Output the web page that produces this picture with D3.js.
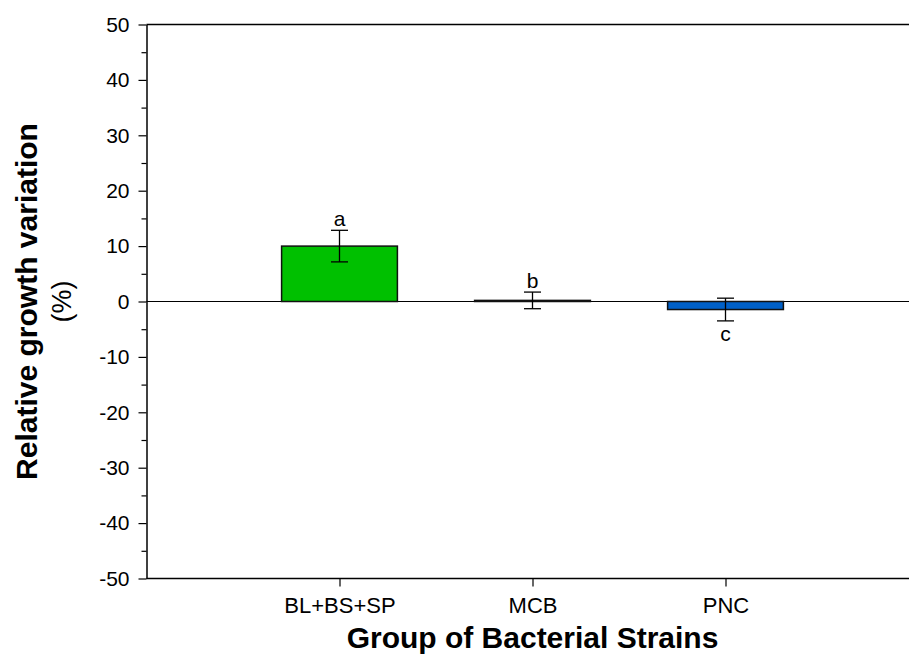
<!DOCTYPE html>
<html>
<head>
<meta charset="utf-8">
<script src="https://cdn.jsdelivr.net/npm/d3@7"></script>
<style>
  body { margin: 0; background: #fff; }
  svg { display: block; font-family: Arial, "Liberation Sans", sans-serif; }
</style>
</head>
<body>
<div id="chart"></div>
<script>
// data
var groups = ['BL+BS+SP', 'MCB', 'PNC'];
var means = [10.0, 0.2, -1.45];
var errors = [2.85, 1.5, 2.05];
var letters = ['a', 'b', 'c'];
var colors = ['#00c000', '#00c000', '#0060c8'];
var yTicks = [-50, -40, -30, -20, -10, 0, 10, 20, 30, 40, 50];

var width = 909,
  height = 655;

var svg = d3.select('#chart')
  .append('svg')
  .attr('width', width)
  .attr('height', height);

// slots 0..4, categories sit on 1, 2, 3
var x = d3.scaleLinear().domain([0, 4]).range([146.5, 918.5]);
var y = d3.scaleLinear().domain([-50, 50]).range([578.5, 24.5]);
var slot = x(1) - x(0);
var barWidth = slot * 0.6;

// frame top line
svg.append('line')
  .attr('x1', x(0)).attr('x2', width)
  .attr('y1', y(50)).attr('y2', y(50))
  .attr('stroke', '#000').attr('stroke-width', 1.5);

// zero line
svg.append('line')
  .attr('x1', x(0)).attr('x2', width)
  .attr('y1', y(0)).attr('y2', y(0))
  .attr('stroke', '#000').attr('stroke-width', 1.2);

// y axis with minor ticks
var minor = d3.range(-45, 50, 10);
svg.append('g')
  .attr('transform', 'translate(' + x(0) + ',0)')
  .call(d3.axisLeft(y).tickValues(minor).tickSize(5).tickFormat(''))
  .call(g => g.select('.domain').remove())
  .selectAll('line').attr('stroke-width', 1.2);

var yAxis = svg.append('g')
  .attr('transform', 'translate(' + x(0) + ',0)')
  .call(d3.axisLeft(y).tickValues(yTicks).tickSize(8).tickSizeOuter(0).tickPadding(9)
    .tickFormat((d) => String(d)));
yAxis.select('.domain').attr('stroke-width', 1.5);
yAxis.selectAll('line').attr('stroke-width', 1.2);
yAxis.selectAll('text')
  .style('font-size', '21px')
  .style('font-family', 'Arial, "Liberation Sans", sans-serif')
  .attr('fill', '#000');

// x axis at the bottom
var xAxis = svg.append('g')
  .attr('transform', 'translate(0,' + y(-50) + ')')
  .call(d3.axisBottom(x).tickValues([1, 2, 3]).tickSize(8).tickSizeOuter(0).tickPadding(11)
    .tickFormat((d) => groups[d - 1]));
xAxis.select('.domain').attr('d', 'M' + x(0) + ',0H' + width).attr('stroke-width', 1.5);
xAxis.selectAll('line').attr('stroke-width', 1.2);
xAxis.selectAll('text')
  .style('font-size', '22px')
  .style('font-family', 'Arial, "Liberation Sans", sans-serif')
  .attr('fill', '#000');

// bars
svg.selectAll('rect.bar')
  .data(means)
  .enter()
  .append('rect')
  .attr('class', 'bar')
  .attr('x', (d, i) => x(i + 1) - barWidth / 2)
  .attr('y', (d) => y(Math.max(0, d)))
  .attr('width', barWidth)
  .attr('height', (d) => Math.abs(y(d) - y(0)))
  .attr('fill', (d, i) => colors[i])
  .attr('stroke', '#111')
  .attr('stroke-width', 1.5);

// error bars
var capW = 17;
var err = svg.selectAll('g.err')
  .data(means)
  .enter()
  .append('g')
  .attr('class', 'err')
  .attr('stroke', '#000')
  .attr('stroke-width', 1.3);
err.append('line')
  .attr('x1', (d, i) => x(i + 1)).attr('x2', (d, i) => x(i + 1))
  .attr('y1', (d, i) => y(d + errors[i])).attr('y2', (d, i) => y(d - errors[i]));
err.append('line')
  .attr('x1', (d, i) => x(i + 1) - capW / 2).attr('x2', (d, i) => x(i + 1) + capW / 2)
  .attr('y1', (d, i) => y(d + errors[i])).attr('y2', (d, i) => y(d + errors[i]));
err.append('line')
  .attr('x1', (d, i) => x(i + 1) - capW / 2).attr('x2', (d, i) => x(i + 1) + capW / 2)
  .attr('y1', (d, i) => y(d - errors[i])).attr('y2', (d, i) => y(d - errors[i]));

// significance letters
svg.selectAll('text.letter')
  .data(means)
  .enter()
  .append('text')
  .attr('class', 'letter')
  .attr('x', (d, i) => x(i + 1))
  .attr('y', (d, i) => d >= 0 ? y(d + errors[i]) - 4 : y(d - errors[i]) + 20)
  .attr('text-anchor', 'middle')
  .style('font-size', '21px')
  .text((d, i) => letters[i]);

// axis titles
svg.append('text')
  .attr('transform', 'translate(' + 37 + ',' + y(0) + ') rotate(-90)')
  .attr('text-anchor', 'middle')
  .style('font-size', '30px')
  .style('font-weight', 'bold')
  .text('Relative growth variation');

svg.append('text')
  .attr('transform', 'translate(' + 71 + ',' + y(0) + ') rotate(-90)')
  .attr('text-anchor', 'middle')
  .style('font-size', '27px')
  .text('(%)');

svg.append('text')
  .attr('x', x(2))
  .attr('y', 648)
  .attr('text-anchor', 'middle')
  .style('font-size', '30px')
  .style('font-weight', 'bold')
  .text('Group of Bacterial Strains');
</script>
</body>
</html>
